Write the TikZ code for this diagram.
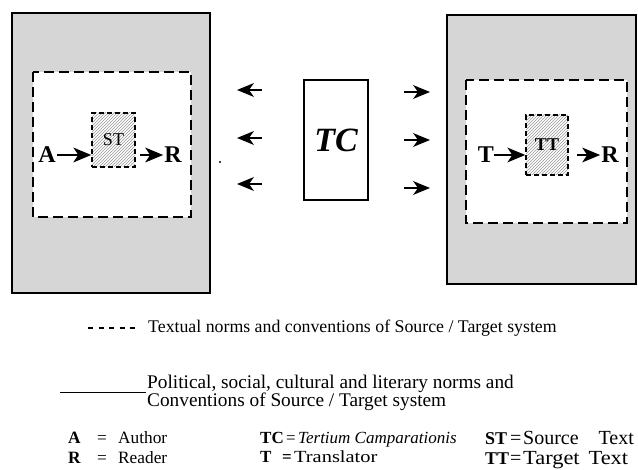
\documentclass[tikz,border=0pt]{standalone}
\usepackage{fontspec}
\setmainfont{Liberation Serif}
\usetikzlibrary{patterns}
\newcommand\lefthead[1]{\fill (#1) -- ++(17,-7) -- ++(-5,7) -- ++(5,7) -- cycle;}
\newcommand\righthead[1]{\fill (#1) -- ++(-17,-7) -- ++(5,7) -- ++(-5,7) -- cycle;}
\newcommand\flowhead[1]{\fill (#1) -- ++(-18,-7.5) -- ++(5,7.5) -- ++(-5,7.5) -- cycle;}
\begin{document}
\begin{tikzpicture}[x=1pt,y=-1pt,
  outerbox/.style={draw=black,line width=1.6pt,fill=black!16},
  innerbox/.style={draw=black,line width=2pt,dash pattern=on 10pt off 5pt,fill=white},
  hatchbox/.style={draw=black,line width=1.5pt,dash pattern=on 5pt off 3pt,
     pattern=north east lines,pattern color=black!40,inner sep=0pt,
     minimum width=43pt,minimum height=54pt},
  tcbox/.style={draw=black,line width=1.2pt,minimum width=64pt,minimum height=120pt,inner sep=0pt},
  letter/.style={font=\fontsize{24}{26}\selectfont\bfseries,inner sep=0pt},
  shaft/.style={line width=2.6pt},
  legend/.style={anchor=base west,inner sep=0pt},
  ]
\useasboundingbox (0,0) rectangle (638,470);

% left system
\draw[outerbox] (12,13) rectangle (210,293);
\draw[innerbox] (33,72) rectangle (191,217);
\node[hatchbox,font=\fontsize{18}{20}\selectfont] (st) at (113.5,140) {ST};
\node[letter] (a) at (47,155) {A};
\node[letter] (r) at (173,155) {R};
\coordinate (a1) at ([xshift=1pt]a.east);
\coordinate (a2) at (st.west |- a1);
\draw[shaft] (a1) -- ([xshift=-10pt]a2); \flowhead{a2}
\coordinate (b1) at ([xshift=4pt]st.east |- r.center);
\coordinate (b2) at ([xshift=-1pt]r.west |- r.center);
\draw[shaft] (b1) -- ([xshift=-10pt]b2); \flowhead{b2}
\fill (220,162) circle (1.1pt);

% right system
\draw[outerbox] (447,15) rectangle (636,284);
\draw[innerbox] (466,80) rectangle (627,223);
\node[hatchbox,minimum width=42pt,minimum height=60pt,font=\fontsize{18}{20}\selectfont\bfseries] (tt) at (547,145) {TT};
\node[letter] (t) at (486,155) {T};
\node[letter] (r2) at (610,155) {R};
\coordinate (c1) at (t.east |- t.center);
\coordinate (c2) at (tt.west |- t.center);
\draw[shaft] (c1) -- ([xshift=-10pt]c2); \flowhead{c2}
\coordinate (e1) at ([xshift=8pt]tt.east |- r2.center);
\coordinate (e2) at ([xshift=-1pt]r2.west |- r2.center);
\draw[shaft] (e1) -- ([xshift=-10pt]e2); \flowhead{e2}

% tertium comparationis
\node[tcbox] (tc) at (336,140) {};
\node[font=\fontsize{34}{36}\selectfont\bfseries\itshape,inner sep=0pt] (tct) at (336,140) {TC};

\coordinate (l1s) at (262,90);  \coordinate (l1e) at (237,90);
\coordinate (l2s) at (262,138); \coordinate (l2e) at (237,138);
\coordinate (l3s) at (262,184); \coordinate (l3e) at (237,184);
\coordinate (r1s) at (404,92);  \coordinate (r1e) at (430,92);
\coordinate (r2s) at (404,140); \coordinate (r2e) at (430,140);
\coordinate (r3s) at (404,188); \coordinate (r3e) at (430,188);
\foreach \n in {l1,l2,l3}{
  \draw[shaft,line width=2.4pt] (\n s) -- ([xshift=10pt]\n e); \lefthead{\n e}}
\foreach \n in {r1,r2,r3}{
  \draw[shaft,line width=2.4pt] (\n s) -- ([xshift=-10pt]\n e); \righthead{\n e}}

% legend lines
\coordinate (d1) at (88,328); \coordinate (d2) at (135,328);
\draw[line width=1.1pt,dash pattern=on 5pt off 5.5pt] (d1) -- (d2);
\node[legend,font=\fontsize{17.8}{19}\selectfont] (l1) at (148,333) {Textual norms and conventions of Source / Target system};
\coordinate (u1) at (60,392); \coordinate (u2) at (146,392);
\draw[line width=0.8pt] (u1) -- (u2);
\node[legend,font=\fontsize{19.3}{20}\selectfont] (l2) at (147,389) {Political, social, cultural and literary norms and};
\node[legend,font=\fontsize{19.3}{20}\selectfont] (l3) at (147,407) {Conventions of Source / Target system};

% key
\begin{scope}[every node/.style={legend,font=\fontsize{17.3}{19}\selectfont}]
\node (ka) at (68,444) {\textbf{A}};
\node (kae) at (97,444) {=};
\node (kat) at (118,444) {Author};
\node (kr) at (68,464) {\textbf{R}};
\node (kre) at (97,464) {=};
\node (krt) at (118,464) {Reader};
\end{scope}
\begin{scope}[every node/.style={legend,font=\fontsize{17}{19}\selectfont}]
\node (ktc) at (260,444) {\textbf{TC}};
\node (ktce) at (286,444) {=};
\node (ktct) at (298,444) {\textit{Tertium Camparationis}};
\node (kt) at (260,463) {\textbf{T}};
\node (kte) at (282,463) {\textbf{=}};
\node (ktt) at (294,463) {\scalebox{1.2}[1]{Translator}};
\end{scope}
\begin{scope}[every node/.style={legend,font=\fontsize{20}{21}\selectfont}]
\node[font=\fontsize{18}{19}\selectfont\bfseries] (kst) at (485,445) {ST};
\node (kste) at (510,445) {=};
\node (kstt) at (523,445) {Source};
\node[anchor=base east] (kstt2) at (634,445) {Text};
\node[font=\fontsize{18}{19}\selectfont\bfseries] (ktt2) at (485,465) {TT};
\node (ktte) at (510,465) {=};
\node (kttt) at (523,465) {\scalebox{1.12}[1]{Target\hspace{8pt}Text}};
\end{scope}
\end{tikzpicture}
\end{document}
